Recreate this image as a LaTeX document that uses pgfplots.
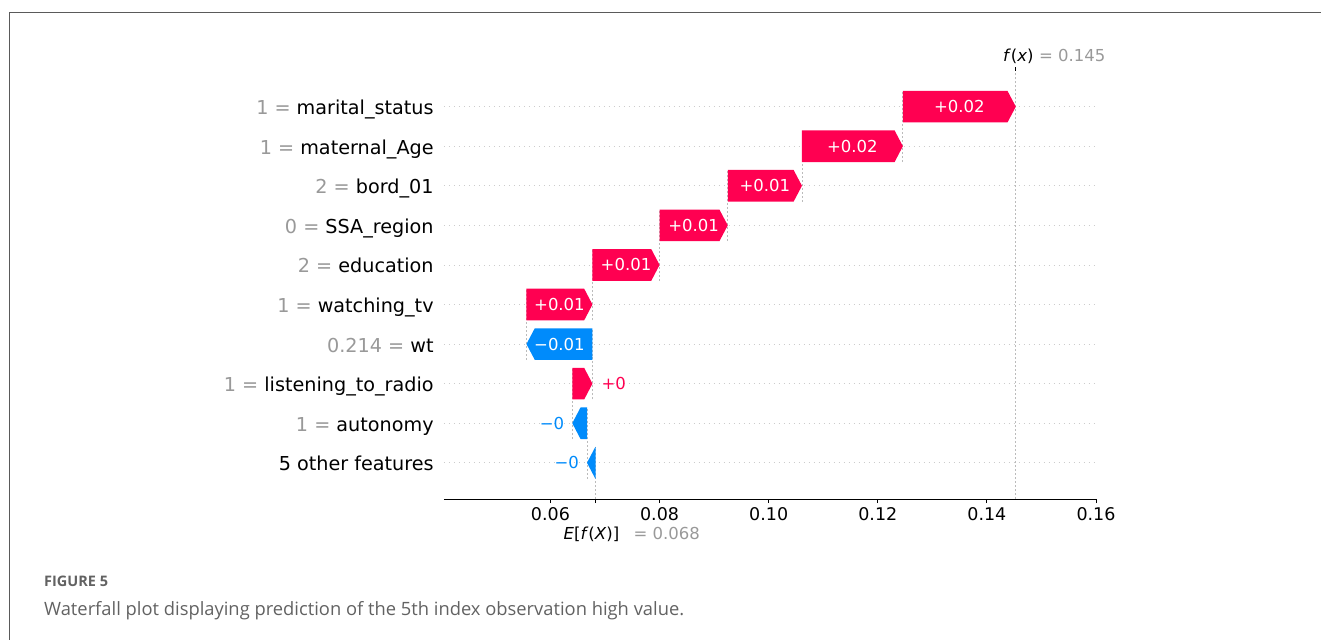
\documentclass[border=0pt]{standalone}
\usepackage{pgfplots}
\pgfplotsset{compat=1.18}
\usepackage{fontspec}
\setmainfont{DejaVu Sans}
\newfontfamily\capfont{Open Sans}

\definecolor{shapred}{HTML}{FF0051}
\definecolor{shapblue}{HTML}{008BFB}
\definecolor{lblgray}{HTML}{999999}
\definecolor{gridgray}{HTML}{CCCCCC}
\definecolor{linegray}{HTML}{BBBBBB}
\definecolor{framegray}{HTML}{5A5A5A}
\definecolor{capgray}{HTML}{626262}

\tikzset{wflabel/.style={font=\fontsize{16.5}{19}\selectfont, inner sep=0pt}}

% waterfall arrow: {row}{start}{end}{colour}{label}{c = inside, r = right of tip, l = left of tip}
\newcommand{\wfbar}[6]{%
  \pgfmathsetmacro{\wlen}{abs(#3-#2)}%
  \pgfmathsetmacro{\whl}{min(\wlen,0.00152)}%
  \pgfmathsetmacro{\wneck}{#3>#2 ? #3-\whl : #3+\whl}%
  \pgfmathsetmacro{\wlo}{#1-0.4}%
  \pgfmathsetmacro{\whi}{#1+0.4}%
  \pgfmathsetmacro{\wmid}{(#2+#3)/2}%
  \pgfmathsetmacro{\wclo}{max(#1-1.4,-0.917)}%
  \edef\wcmd{%
    \noexpand\addplot[linegray, line width=0.8pt, dash pattern=on 2pt off 2pt] coordinates {(#2,\wclo) (#2,\whi)};%
    \noexpand\addplot[fill=#4, draw=none] coordinates {(#2,\wlo) (\wneck,\wlo) (#3,#1) (\wneck,\whi) (#2,\whi)} -- cycle;%
  }\wcmd
  \if#6c\edef\wcmd{\noexpand\node[wflabel, text=white] at (axis cs:\wmid,#1) {\unexpanded{#5}};}\wcmd\fi
  \if#6r\edef\wcmd{\noexpand\node[wflabel, text=#4, anchor=west, xshift=9pt] at (axis cs:#3,#1) {\unexpanded{#5}};}\wcmd\fi
  \if#6l\edef\wcmd{\noexpand\node[wflabel, text=#4, anchor=east, xshift=-8pt] at (axis cs:#3,#1) {\unexpanded{#5}};}\wcmd\fi
}

\begin{document}
\begin{tikzpicture}
\path (0,0) rectangle (1322pt,-640pt);
\draw[framegray, line width=1.2pt] (9.3pt,-640pt) -- (9.3pt,-12.3pt) -- (1322pt,-12.3pt);

\begin{axis}[
  at={(444pt,-499.3pt)}, anchor=south west,
  scale only axis, width=653.6pt, height=427.8pt,
  xmin=0.04045, xmax=0.1602, ymin=-0.917, ymax=9.889,
  clip=false,
  axis x line*=bottom, axis y line*=left,
  y axis line style={draw=none},
  x axis line style={black, line width=1pt, -},
  /pgf/number format/assume math mode=true,
  xtick={0.06,0.08,0.10,0.12,0.14,0.16},
  extra x ticks={0.0683}, extra x tick labels={},
  tick align=outside, major tick length=4pt,
  xtick style={black, line width=1pt},
  xticklabel style={font=\fontsize{17.5}{20}\selectfont, inner sep=0pt, yshift=-4pt,
    /pgf/number format/fixed, /pgf/number format/fixed zerofill, /pgf/number format/precision=2},
  ytick={0,...,9}, ytick style={draw=none},
  yticklabels={
    {5 other features},
    {{\color{lblgray}1 = }autonomy},
    {{\color{lblgray}1 = }listening\_to\_radio},
    {{\color{lblgray}0.214 = }wt},
    {{\color{lblgray}1 = }watching\_tv},
    {{\color{lblgray}2 = }education},
    {{\color{lblgray}0 = }SSA\_region},
    {{\color{lblgray}2 = }bord\_01},
    {{\color{lblgray}1 = }maternal\_Age},
    {{\color{lblgray}1 = }marital\_status}},
  yticklabel style={font=\fontsize{19.2}{22}\selectfont, anchor=base east, inner sep=0pt, xshift=-6pt, yshift=-8pt},
  ymajorgrids,
  major y grid style={gridgray, line width=0.8pt, dash pattern=on 1pt off 4pt},
]
% model output line
\addplot[linegray, line width=0.8pt, dash pattern=on 2pt off 2pt] coordinates {(0.1453,-0.917) (0.1453,9.889)};

% contributions, top row first, each starting where the one below it ends
\wfbar{9}{0.1246}{0.1453}{shapred}{+0.02}{c}
\wfbar{8}{0.1061}{0.1246}{shapred}{+0.02}{c}
\wfbar{7}{0.0925}{0.1061}{shapred}{+0.01}{c}
\wfbar{6}{0.0800}{0.0925}{shapred}{+0.01}{c}
\wfbar{5}{0.0677}{0.0800}{shapred}{+0.01}{c}
\wfbar{4}{0.0556}{0.0677}{shapred}{+0.01}{c}
\wfbar{3}{0.0677}{0.0556}{shapblue}{−0.01}{c}
\wfbar{2}{0.0640}{0.0677}{shapred}{+0}{r}
\wfbar{1}{0.0667}{0.0640}{shapblue}{−0}{l}
\wfbar{0}{0.0683}{0.0667}{shapblue}{−0}{l}

% base value and model output annotations
\node[wflabel, anchor=west, xshift=-32.3pt, yshift=-35.7pt] at (axis cs:0.0683,-0.917)
  {\makebox[70pt][l]{\textit{E}[\textit{f}(\textit{X})]}{\color{lblgray}= 0.068}};
\node[wflabel, anchor=west, xshift=-13pt, yshift=15.5pt] at (axis cs:0.1453,9.889)
  {\makebox[36pt][l]{\textit{f}(\textit{x})}{\color{lblgray}= 0.145}};
\end{axis}

% tick for the model output on the upper edge
\begin{axis}[
  at={(444pt,-499.3pt)}, anchor=south west,
  scale only axis, width=653.6pt, height=427.8pt,
  xmin=0.04045, xmax=0.1602, ymin=-0.917, ymax=9.889,
  axis x line*=top, axis y line=none,
  x axis line style={draw=none},
  xtick={0.1453}, xticklabels={},
  tick align=outside, major tick length=4pt,
  xtick style={black, line width=1pt},
]
\end{axis}

\node[anchor=base west, inner sep=0pt, text=capgray, font=\capfont\bfseries\fontsize{14.5}{17}\selectfont]
  at (44pt,-587pt) {FIGURE 5};
\node[anchor=base west, inner sep=0pt, text=capgray, font=\capfont\fontsize{18.35}{21}\selectfont]
  at (44pt,-616pt) {Waterfall plot displaying prediction of the 5th index observation high value.};
\end{tikzpicture}
\end{document}
